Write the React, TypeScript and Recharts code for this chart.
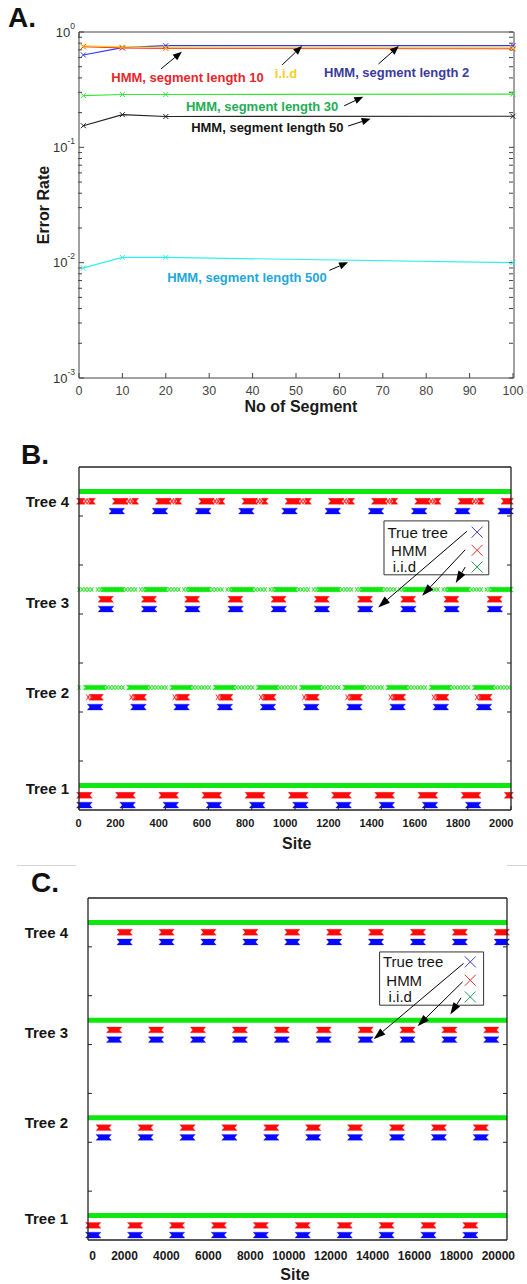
import React from 'react';
import {
  ComposedChart, Line, XAxis, YAxis, ReferenceArea, ReferenceLine, ReferenceDot,
} from 'recharts';

const FONT = '"Liberation Sans", Arial, Helvetica, sans-serif';

// ---------- Panel A: error rate vs number of segments ----------
const segCounts = [1, 10, 20, 100];
const hmm2 = [0.632, 0.731, 0.762, 0.762];
const hmm10 = [0.746, 0.727, 0.722, 0.717];
const iid = [0.757, 0.742, 0.731, 0.728];
const hmm30 = [0.281, 0.287, 0.287, 0.289];
const hmm50 = [0.154, 0.192, 0.185, 0.186];
const hmm500 = [0.009, 0.0111, 0.0111, 0.01];

const segTicks = [0, 10, 20, 30, 40, 50, 60, 70, 80, 90, 100];
const decadeTicks = [0.001, 0.01, 0.1, 1];
const minorTicks = [0.001, 0.01, 0.1].flatMap(d => [2, 3, 4, 5, 6, 7, 8, 9].map(m => d * m));

const tableA = segCounts.map((n, i) => ({
  n, hmm2: hmm2[i], hmm10: hmm10[i], iid: iid[i], hmm30: hmm30[i], hmm50: hmm50[i], hmm500: hmm500[i],
}));

const seriesA = [
  { key: 'hmm2', color: '#3434ff' },
  { key: 'hmm10', color: '#ff2a2a' },
  { key: 'iid', color: '#ffd21a' },
  { key: 'hmm30', color: '#36e636' },
  { key: 'hmm50', color: '#222222' },
  { key: 'hmm500', color: '#33eeee' },
];

const notesA = [
  { text: 'HMM, segment length 10', color: '#e8262b', x: 25.0, y: 0.408 },
  { text: 'i.i.d', color: '#f2cf1d', x: 47.7, y: 0.442 },
  { text: 'HMM, segment length 2', color: '#3b3b9e', x: 73.2, y: 0.451 },
  { text: 'HMM, segment length 30', color: '#1fae55', x: 42.2, y: 0.229 },
  { text: 'HMM, segment length 50', color: '#151515', x: 43.4, y: 0.15 },
  { text: 'HMM, segment length 500', color: '#1ea7dc', x: 38.7, y: 0.00742 },
];

const arrowsA = [
  { x1: 18.9, y1: 0.479, x2: 23.7, y2: 0.675 },
  { x1: 46.8, y1: 0.518, x2: 51.4, y2: 0.756 },
  { x1: 69.0, y1: 0.528, x2: 73.7, y2: 0.756 },
  { x1: 61.1, y1: 0.229, x2: 65.5, y2: 0.275 },
  { x1: 62.0, y1: 0.153, x2: 67.2, y2: 0.177 },
  { x1: 57.7, y1: 0.00858, x2: 62.0, y2: 0.01006 },
];

// ---------- Panels B and C: inferred tree along the sequence ----------
const treeNames = ['Tree 1', 'Tree 2', 'Tree 3', 'Tree 4'];
const treeLabelPos = [1.22, 2.2, 3.12, 4.15];
const treeGridTicks = [1.5, 2, 2.5, 3, 3.5, 4];
const TRUE_OFF = 0.05;
const HMM_OFF = 0.15;
const IID_OFF = 0.25;

// [tree, start, end] inside one repeating period of sites
type Run = [number, number, number];

const bSiteTicks = [0, 200, 400, 600, 800, 1000, 1200, 1400, 1600, 1800, 2000];
const bPeriods = [-200, 0, 200, 400, 600, 800, 1000, 1200, 1400, 1600, 1800, 2000];
const bTrueRuns: Run[] = [[1, 0, 50], [2, 50, 100], [3, 100, 150], [4, 150, 200]];
const bHmmRuns: Run[] = [[1, -20, 50], [2, 62, 102], [3, 100, 148], [4, 165, 215], [4, 255, 265]];
const bHmmSparse: Run[] = [[2, 42, 62], [4, 215, 255]];
const bIidRuns: Run[] = [[2, 30, 115], [3, 110, 200]];
const bIidSparse: Run[] = [[2, 115, 210], [3, 85, 265]];
const bIidFullTrees = [1, 4];

const cSiteTicks = [0, 2000, 4000, 6000, 8000, 10000, 12000, 14000, 16000, 18000, 20000];
const cPeriods = [0, 2000, 4000, 6000, 8000, 10000, 12000, 14000, 16000, 18000];
const cTrueRuns: Run[] = [[1, 0, 500], [2, 500, 1000], [3, 1000, 1500], [4, 1500, 2000]];
const cHmmRuns: Run[] = [[1, 0, 500], [2, 500, 1000], [3, 1000, 1500], [4, 1500, 2000]];
const cIidFullTrees = [1, 2, 3, 4];

const legendItems = [
  { text: 'True tree', color: '#3c3cb4' },
  { text: 'HMM', color: '#e23030' },
  { text: 'i.i.d', color: '#1f9f55' },
];

const BLUE = '#0808ff';
const RED = '#ff0a0a';
const GREEN = '#0ee80e';
const HALF = 0.03;

function expandRuns(periods: number[], runs: Run[], lo: number, hi: number) {
  const out: { tree: number; s: number; e: number }[] = [];
  periods.forEach(p => runs.forEach(([tree, s, e]) => {
    const a = Math.max(lo, p + s);
    const b = Math.min(hi, p + e);
    if (b > a) out.push({ tree, s: a, e: b });
  }));
  return out;
}

// ---------- shapes ----------
const XMark = ({ cx, cy, color, r = 2.5, w = 1 }: any) => {
  if (cx == null || cy == null) return null;
  return (
    <path
      d={`M${cx - r},${cy - r}L${cx + r},${cy + r}M${cx - r},${cy + r}L${cx + r},${cy - r}`}
      stroke={color} strokeWidth={w} fill="none"
    />
  );
};

const notchBar = (fill: string, n = 2.5) => (p: any) => {
  const { x, y, width: w, height: h } = p;
  if (!isFinite(x) || !isFinite(y)) return <g />;
  const m = y + h / 2;
  return (
    <polygon
      points={`${x - n},${y} ${x + w + n},${y} ${x + w},${m} ${x + w + n},${y + h} ${x - n},${y + h} ${x},${m}`}
      fill={fill} stroke={fill} strokeOpacity={0.35} strokeWidth={0.8}
    />
  );
};

const sparseBar = (color: string, fill: string, step = 3.2) => (p: any) => {
  const { x, y, width: w, height: h } = p;
  if (!isFinite(x) || !isFinite(y)) return <g />;
  const m = y + h / 2;
  const r = h / 2;
  let d = '';
  for (let cx = x; cx <= x + w; cx += step) {
    d += `M${cx - r * 0.6},${m - r}L${cx + r * 0.6},${m + r}M${cx - r * 0.6},${m + r}L${cx + r * 0.6},${m - r}`;
  }
  return (
    <g>
      <rect x={x} y={y + 1} width={w} height={h - 2} fill={fill} />
      <path d={d} stroke={color} strokeWidth={0.9} fill="none" />
    </g>
  );
};

const arrowShape = (head = 9, half = 3.5) => (p: any) => {
  const { x1, y1, x2, y2 } = p;
  if (![x1, y1, x2, y2].every(v => isFinite(v))) return <g />;
  const dx = x2 - x1;
  const dy = y2 - y1;
  const len = Math.hypot(dx, dy) || 1;
  const ux = dx / len;
  const uy = dy / len;
  const bx = x2 - ux * head;
  const by = y2 - uy * head;
  return (
    <g>
      <line x1={x1} y1={y1} x2={bx} y2={by} stroke="#000" strokeWidth={1} />
      <polygon points={`${x2},${y2} ${bx - uy * half},${by + ux * half} ${bx + uy * half},${by - ux * half}`} fill="#000" />
    </g>
  );
};

const noteShape = (text: string, color: string, size: number, weight: number, anchor: string) => (p: any) => (
  <text x={p.cx} y={p.cy} dy="0.36em" textAnchor={anchor} fontSize={size} fontWeight={weight} fill={color} fontFamily={FONT}>
    {text}
  </text>
);

const markShape = (color: string) => (p: any) => <XMark cx={p.cx} cy={p.cy} color={color} r={5.5} w={1} />;

// ---------- ticks ----------
const PlainTick = ({ x, y, payload, anchor = 'middle', dx = 0, size = 12, weight = 400, fill = '#333' }: any) => (
  <text x={x + dx} y={y} dy="0.71em" textAnchor={anchor} fontSize={size} fontWeight={weight} fill={fill} fontFamily={FONT}>
    {payload.value}
  </text>
);

const PowTick = ({ x, y, payload }: any) => (
  <text x={x} y={y + 4.5} textAnchor="end" fontSize={13} fill="#333" fontFamily={FONT}>
    10<tspan dy={-8} fontSize={8.5}>{Math.round(Math.log10(payload.value))}</tspan>
  </text>
);

const TreeTick = ({ x, y, payload }: any) => (
  <text x={x} y={y} dy="0.36em" textAnchor="end" fontSize={15} fontWeight={700} fill="#151515" fontFamily={FONT}>
    {treeNames[treeLabelPos.indexOf(payload.value)]}
  </text>
);

const blank = () => '';

// ---------- panels ----------
function PanelA() {
  return (
    <ComposedChart width={527} height={420} data={tableA} margin={{ top: 31, right: 12, bottom: 41, left: 77 }}>
      <XAxis dataKey="n" type="number" domain={[0, 100]} ticks={segTicks} interval={0} height={1}
        tickSize={-5} tickMargin={13} axisLine={{ stroke: '#444' }} tickLine={{ stroke: '#444' }}
        tick={<PlainTick size={12.5} fill="#444" />} />
      <XAxis xAxisId="top" orientation="top" type="number" domain={[0, 100]} ticks={segTicks} interval={0} height={1}
        tickSize={-5} axisLine={{ stroke: '#444' }} tickLine={{ stroke: '#444' }} tickFormatter={blank} />
      <YAxis type="number" scale="log" domain={[0.001, 1]} ticks={decadeTicks} interval={0} width={1} allowDataOverflow
        tickSize={-5} tickMargin={9} axisLine={{ stroke: '#444' }} tickLine={{ stroke: '#444' }} tick={<PowTick />} />
      <YAxis yAxisId="minorL" type="number" scale="log" domain={[0.001, 1]} ticks={minorTicks} interval={0} width={1}
        allowDataOverflow tickSize={-4} axisLine={false} tickLine={{ stroke: '#444' }} tickFormatter={blank} />
      <YAxis yAxisId="right" orientation="right" type="number" scale="log" domain={[0.001, 1]} ticks={decadeTicks}
        interval={0} width={1} allowDataOverflow tickSize={-5} axisLine={{ stroke: '#444' }}
        tickLine={{ stroke: '#444' }} tickFormatter={blank} />
      <YAxis yAxisId="minorR" orientation="right" type="number" scale="log" domain={[0.001, 1]} ticks={minorTicks}
        interval={0} width={1} allowDataOverflow tickSize={-4} axisLine={false} tickLine={{ stroke: '#444' }}
        tickFormatter={blank} />

      {seriesA.map(s => (
        <Line key={s.key} dataKey={s.key} type="linear" stroke={s.color} strokeWidth={1.2}
          isAnimationActive={false}
          dot={(p: any) => <XMark key={`${s.key}-${p.index}`} cx={p.cx} cy={p.cy} color={s.color} r={2.5} />} />
      ))}

      {arrowsA.map((a, i) => (
        <ReferenceLine key={`aa${i}`} segment={[{ x: a.x1, y: a.y1 }, { x: a.x2, y: a.y2 }]}
          ifOverflow="visible" shape={arrowShape(9, 3.6)} />
      ))}
      {notesA.map((t, i) => (
        <ReferenceDot key={`na${i}`} x={t.x} y={t.y} r={0} ifOverflow="visible"
          shape={noteShape(t.text, t.color, 13, 700, 'middle')} />
      ))}
    </ComposedChart>
  );
}

type Seg = { tree: number; s: number; e: number };
type TreePanelProps = {
  width: number; height: number;
  margin: { top: number; right: number; bottom: number; left: number };
  maxSite: number; siteTicks: number[]; tickLen: number; bottomTicks: boolean;
  labelMargin: number; siteTickSize: number; siteTickMargin: number; siteTickDx: number;
  trueSegs: Seg[]; hmmSegs: Seg[]; hmmSparse: Seg[]; iidSegs: Seg[]; iidSparse: Seg[];
  iidFull: number[];
  legendBox: { x1: number; x2: number; y1: number; y2: number };
  legendText: { x: number; y: number }[];
  legendMarkX: number;
  arrows: { x1: number; y1: number; x2: number; y2: number }[];
};

function TreePanel(p: TreePanelProps) {
  const dom: [number, number] = [0, p.maxSite];
  const axis = { stroke: '#222', strokeWidth: 1.3 };
  return (
    <ComposedChart width={p.width} height={p.height} margin={p.margin}>
      <XAxis dataKey="site" type="number" domain={dom} ticks={p.siteTicks} interval={0} height={1} allowDataOverflow
        tickSize={p.bottomTicks ? -p.tickLen : 0} tickMargin={p.siteTickMargin} axisLine={axis}
        tickLine={p.bottomTicks ? { stroke: '#222' } : false}
        tick={<PlainTick anchor="end" dx={p.siteTickDx} size={p.siteTickSize} weight={700} fill="#1a1a1a" />} />
      <XAxis xAxisId="top" orientation="top" type="number" domain={dom} ticks={p.siteTicks} interval={0} height={1}
        allowDataOverflow tickSize={-p.tickLen} axisLine={axis} tickLine={{ stroke: '#222' }} tickFormatter={blank} />
      <YAxis type="number" domain={[1, 4.5]} ticks={treeGridTicks} interval={0} width={1} allowDataOverflow
        tickSize={-p.tickLen} axisLine={axis} tickLine={{ stroke: '#222' }} tickFormatter={blank} />
      <YAxis yAxisId="names" type="number" domain={[1, 4.5]} ticks={treeLabelPos} interval={0} width={1}
        allowDataOverflow tickSize={0} tickMargin={p.labelMargin} axisLine={false} tickLine={false} tick={<TreeTick />} />
      <YAxis yAxisId="right" orientation="right" type="number" domain={[1, 4.5]} ticks={treeGridTicks} interval={0}
        width={1} allowDataOverflow tickSize={-p.tickLen} axisLine={axis} tickLine={{ stroke: '#222' }}
        tickFormatter={blank} />

      {p.iidFull.map(t => (
        <Line key={`gf${t}`} data={[{ site: 0, level: t + IID_OFF }, { site: p.maxSite, level: t + IID_OFF }]}
          dataKey="level" stroke={GREEN} strokeWidth={5} dot={false} isAnimationActive={false} />
      ))}

      {p.iidSparse.map((r, i) => (
        <ReferenceArea key={`gs${i}`} x1={r.s} x2={r.e} y1={r.tree + IID_OFF - HALF * 0.8} y2={r.tree + IID_OFF + HALF * 0.8}
          ifOverflow="hidden" shape={sparseBar('#22dd22', '#b8f7b8')} />
      ))}
      {p.iidSegs.map((r, i) => (
        <ReferenceArea key={`gd${i}`} x1={r.s} x2={r.e} y1={r.tree + IID_OFF - HALF * 0.8} y2={r.tree + IID_OFF + HALF * 0.8}
          ifOverflow="hidden" shape={notchBar(GREEN)} />
      ))}
      {p.hmmSparse.map((r, i) => (
        <ReferenceArea key={`rs${i}`} x1={r.s} x2={r.e} y1={r.tree + HMM_OFF - HALF} y2={r.tree + HMM_OFF + HALF}
          ifOverflow="hidden" shape={sparseBar('#ff2020', '#ffb0b0')} />
      ))}
      {p.hmmSegs.map((r, i) => (
        <ReferenceArea key={`rd${i}`} x1={r.s} x2={r.e} y1={r.tree + HMM_OFF - HALF} y2={r.tree + HMM_OFF + HALF}
          ifOverflow="hidden" shape={notchBar(RED)} />
      ))}
      {p.trueSegs.map((r, i) => (
        <ReferenceArea key={`bd${i}`} x1={r.s} x2={r.e} y1={r.tree + TRUE_OFF - HALF} y2={r.tree + TRUE_OFF + HALF}
          ifOverflow="hidden" shape={notchBar(BLUE)} />
      ))}

      <ReferenceArea x1={p.legendBox.x1} x2={p.legendBox.x2} y1={p.legendBox.y1} y2={p.legendBox.y2}
        ifOverflow="visible" fill="#ffffff" fillOpacity={1} stroke="#333" strokeWidth={1} />
      {legendItems.map((it, i) => (
        <ReferenceDot key={`lt${i}`} x={p.legendText[i].x} y={p.legendText[i].y} r={0} ifOverflow="visible"
          shape={noteShape(it.text, '#151515', 15, 400, 'start')} />
      ))}
      {legendItems.map((it, i) => (
        <ReferenceDot key={`lm${i}`} x={p.legendMarkX} y={p.legendText[i].y} r={0} ifOverflow="visible"
          shape={markShape(it.color)} />
      ))}
      {p.arrows.map((a, i) => (
        <ReferenceLine key={`ar${i}`} segment={[{ x: a.x1, y: a.y1 }, { x: a.x2, y: a.y2 }]}
          ifOverflow="visible" shape={arrowShape(12, 4)} />
      ))}
    </ComposedChart>
  );
}

const abs = (left: number, top: number, extra: React.CSSProperties = {}): React.CSSProperties => ({
  position: 'absolute', left, top, ...extra,
});

export default function App() {
  return (
    <div style={{ position: 'relative', width: 527, height: 1284, background: '#fff', fontFamily: FONT, overflow: 'hidden', color: '#111' }}>
      <style>{'body{margin:0;background:#fff}'}</style>

      <div style={abs(0, 0)}><PanelA /></div>
      <div style={abs(8, 4, { fontSize: 28, fontWeight: 700, lineHeight: '28px' })}>A.</div>
      <div style={abs(301, 407, { transform: 'translate(-50%,-50%)', fontSize: 16, fontWeight: 700, whiteSpace: 'nowrap', lineHeight: '16px', color: '#1a1a1a' })}>No of Segment</div>
      <div style={abs(43.5, 205, { transform: 'translate(-50%,-50%) rotate(-90deg)', fontSize: 16, fontWeight: 700, whiteSpace: 'nowrap', lineHeight: '16px', color: '#1a1a1a' })}>Error Rate</div>

      <div style={abs(0, 440)}>
        <TreePanel
          width={527} height={420} margin={{ top: 26, right: 15, bottom: 49, left: 77 }}
          maxSite={2000} siteTicks={bSiteTicks} tickLen={4} bottomTicks labelMargin={9}
          siteTickSize={11} siteTickMargin={13} siteTickDx={2.5}
          trueSegs={expandRuns(bPeriods, bTrueRuns, 0, 2000)}
          hmmSegs={expandRuns(bPeriods, bHmmRuns, 0, 2000)}
          hmmSparse={expandRuns(bPeriods, bHmmSparse, 0, 2000)}
          iidSegs={expandRuns(bPeriods, bIidRuns, 0, 2000)}
          iidSparse={expandRuns(bPeriods, bIidSparse, 0, 2000)}
          iidFull={bIidFullTrees}
          legendBox={{ x1: 1412, x2: 1897, y1: 3.4, y2: 3.95 }}
          legendText={[{ x: 1428, y: 3.835 }, { x: 1445, y: 3.65 }, { x: 1452, y: 3.48 }]}
          legendMarkX={1843}
          arrows={[
            { x1: 1796, y1: 3.844, x2: 1385, y2: 3.067 },
            { x1: 1788, y1: 3.655, x2: 1589, y2: 3.187 },
            { x1: 1788, y1: 3.479, x2: 1744, y2: 3.317 },
          ]}
        />
      </div>
      <div style={abs(21, 441, { fontSize: 28, fontWeight: 700, lineHeight: '28px' })}>B.</div>
      <div style={abs(296.7, 844, { transform: 'translate(-50%,-50%)', fontSize: 16, fontWeight: 700, lineHeight: '16px', color: '#1a1a1a' })}>Site</div>

      <div style={abs(17, 865, { width: 59, height: 1, background: '#d4d4d4' })} />
      <div style={abs(507, 865, { width: 20, height: 1, background: '#d4d4d4' })} />

      <div style={abs(0, 870)}>
        <TreePanel
          width={527} height={414} margin={{ top: 27, right: 19, bottom: 43, left: 86 }}
          maxSite={20000} siteTicks={cSiteTicks} tickLen={4} bottomTicks={false} labelMargin={19}
          siteTickSize={12} siteTickMargin={11} siteTickDx={8}
          trueSegs={expandRuns(cPeriods, cTrueRuns, 0, 20000)}
          hmmSegs={expandRuns(cPeriods, cHmmRuns, 0, 20000)}
          hmmSparse={[]}
          iidSegs={[]}
          iidSparse={[]}
          iidFull={cIidFullTrees}
          legendBox={{ x1: 13919, x2: 18883, y1: 3.403, y2: 3.948 }}
          legendText={[{ x: 14081, y: 3.846 }, { x: 14239, y: 3.658 }, { x: 14348, y: 3.488 }]}
          legendMarkX={18248}
          arrows={[
            { x1: 17928, y1: 3.831, x2: 13632, y2: 3.055 },
            { x1: 17880, y1: 3.642, x2: 15733, y2: 3.188 },
            { x1: 17804, y1: 3.478, x2: 17293, y2: 3.308 },
          ]}
        />
      </div>
      <div style={abs(31, 869, { fontSize: 28, fontWeight: 700, lineHeight: '28px' })}>C.</div>
      <div style={abs(295, 1275, { transform: 'translate(-50%,-50%)', fontSize: 16, fontWeight: 700, lineHeight: '16px', color: '#1a1a1a' })}>Site</div>
    </div>
  );
}
